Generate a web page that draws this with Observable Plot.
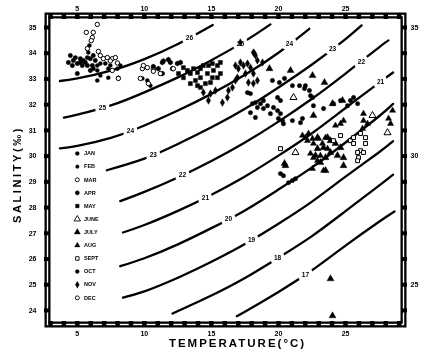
<!DOCTYPE html>
<html><head><meta charset="utf-8">
<script src="https://cdn.jsdelivr.net/npm/d3@7"></script>
<script src="https://cdn.jsdelivr.net/npm/@observablehq/plot@0.6"></script>
<style>
html,body{margin:0;padding:0;background:#fff;overflow:hidden;}
#chart svg{will-change:transform;}
</style></head><body><div id="chart"></div><script>
// ---- axis ticks ----
const xTicks = [5, 10, 15, 20, 25];
const xMinorTicks = [3,4,5,6,7,8,9,10,11,12,13,14,15,16,17,18,19,20,21,22,23,24,25,26,27,28,29];
const yTicksLeft = [24,25,26,27,28,29,30,31,32,33,34,35];
const yTicksRight = [25, 30, 35];
const yMinorTicks = [24,25,26,27,28,29,30,31,32,33,34,35];

// ---- isopycnal (sigma-t) contours, read as [T, S] points ----
const levels = [17, 18, 19, 20, 21, 22, 23, 24, 25, 26];
const sig17 = [[16.9,23.78],[17.5,23.95],[20,24.72],[22.5,25.56],[25,26.52],[27.5,27.45],[28.65,27.85]];
const sig18 = [[12.1,23.88],[15,24.58],[17.5,25.26],[20,26.05],[22.5,26.89],[25,27.86],[27.5,28.85],[28.55,29.28]];
const sig19 = [[8.4,24.5],[10,24.74],[12.5,25.27],[15,25.89],[17.5,26.58],[20,27.37],[22.5,28.23],[25,29.2],[27.5,30.15],[28.55,30.58]];
const sig20 = [[8.2,25.72],[10,26.03],[12.5,26.57],[15,27.2],[17.5,27.89],[20,28.7],[22.5,29.56],[25,30.53],[27.5,31.55],[28.55,32.03]];
const sig21 = [[8.4,27.03],[10,27.32],[12.5,27.87],[15,28.5],[17.5,29.21],[20,30.02],[22.5,30.89],[25,31.87],[27.5,32.85],[28.55,33.25]];
const sig22 = [[8.2,28.25],[10,28.61],[12.5,29.17],[15,29.81],[17.5,30.53],[20,31.34],[22.5,32.23],[25,33.21],[27.5,34.23],[28.2,34.5]];
const sig23 = [[7.2,29.45],[10,29.9],[12.5,30.47],[15,31.12],[17.5,31.84],[20,32.67],[22.5,33.56],[25,34.55],[26.2,35.08]];
const sig24 = [[3.7,30.3],[5,30.4],[7.5,30.71],[10,31.19],[12.5,31.77],[15,32.42],[17.5,33.16],[20,34.02],[22.3,34.95]];
const sig25 = [[4.0,31.5],[5,31.61],[7.5,31.97],[10,32.48],[12.5,33.06],[15,33.73],[17.5,34.47],[19.4,35.12]];
const sig26 = [[3.7,32.92],[5,33.02],[7.5,33.32],[10,33.77],[12.5,34.36],[15.1,35.1]];

// ---- contour labels ----
const labelLevels = [26, 25, 25, 24, 24, 23, 23, 22, 22, 21, 21, 20, 19, 18, 17];
const labelT = [13.36, 6.87, 17.16, 8.96, 20.82, 10.67, 24.03, 12.84, 26.19, 14.55, 27.61, 16.27, 17.99, 19.93, 22.01];
const labelS = [34.58, 31.88, 34.37, 30.99, 34.35, 30.05, 34.17, 29.25, 33.65, 28.39, 32.89, 27.55, 26.74, 26.03, 25.40];

// ---- observations by month, [T, S] ----
const months = ["JAN","FEB","MAR","APR","MAY","JUNE","JULY","AUG","SEPT","OCT","NOV","DEC"];
const jan = [[4.48,33.91],[4.85,33.83],[5.22,33.79],[5.45,33.72],[4.70,33.72],[5.0,33.60],[5.37,33.52],[4.63,33.52],[5.75,33.83],[5.97,33.79],[6.19,33.91],[5.75,33.52],[6.12,33.52],[5.97,33.33],[6.19,33.40],[5.0,33.21],[4.33,33.64],[5.22,33.64],[5.6,33.64],[6.34,33.72]];
const feb = [[6.49,33.52],[6.72,33.60],[7.09,33.60],[7.46,33.52],[6.49,33.33],[6.72,33.13],[7.31,33.05],[8.06,33.05],[6.49,32.94],[7.31,33.40],[7.99,33.40],[8.21,33.52],[9.85,33.02],[10.22,32.94],[10.45,32.74],[5.82,34.03],[5.9,34.30]];
const mar = [[6.49,35.12],[5.67,34.81],[6.19,34.81],[6.12,34.61],[6.04,34.49],[5.75,34.18],[6.57,34.07],[6.72,33.91],[6.94,33.79],[7.24,33.83],[7.61,33.79],[7.84,33.83],[9.85,33.40],[10.22,33.44],[10.67,33.40],[8.06,33.02],[9.70,33.02]];
const apr = [[11.34,33.64],[11.94,33.64],[12.69,33.64],[11.42,33.70],[11.79,33.75],[12.46,33.60],[10.67,33.48],[11.04,33.40],[11.34,33.21],[12.09,33.40]];
const may = [[12.91,33.44],[13.21,33.33],[13.43,33.21],[13.66,33.40],[13.96,33.25],[14.18,33.40],[14.40,33.52],[14.78,33.52],[15.07,33.60],[15.45,33.52],[15.67,33.64],[15.15,33.33],[14.70,33.21],[14.18,33.05],[13.81,32.94],[13.96,32.74],[14.18,32.67],[14.55,32.82],[14.93,32.86],[15.45,33.05],[15.67,33.21],[15.07,33.05],[12.91,33.05],[12.54,33.21],[13.43,32.82]];
const jun = [[21.12,32.28],[27.01,31.58],[28.13,30.91],[21.27,30.14]];
const jul = [[20.52,29.63],[22.61,31.58],[24.03,32.04],[24.78,32.16],[23.88,25.23],[24.03,23.79],[19.33,33.40],[20.90,33.33],[22.54,33.13],[23.43,32.86],[20.45,29.71],
  [22.91,30.72],[23.66,30.72],[23.88,30.60],[24.25,30.49],[24.63,30.33],[23.36,30.33],[22.91,30.29],[23.88,30.14],[24.40,30.02],[24.85,29.94],[23.51,29.94],[22.76,30.02],[23.13,29.75],[24.85,29.63],[23.51,29.44]];
const aug = [[21.79,30.80],[22.01,30.72],[22.24,30.88],[22.54,30.68],[22.16,30.60],[22.61,30.49],[22.99,30.68],[23.28,30.49],[23.51,30.72],[22.39,30.10],[22.61,29.94],[22.91,29.82],[23.13,30.02],[22.54,29.51],[23.36,29.44],[23.66,30.29],[24.25,31.19],[24.63,31.26],[24.85,31.38],[26.34,31.38],[26.64,31.26],[26.34,31.65],[26.27,31.07],[28.36,31.26],[28.21,31.46],[28.51,31.77]];
const sep = [[25.37,30.60],[25.60,30.72],[26.12,30.88],[26.49,30.72],[26.49,30.49],[26.12,30.21],[25.90,30.14],[25.60,30.49],[25.97,29.94],[25.90,29.82],[26.34,30.14],[20.15,30.29],[24.10,30.60],[24.63,30.80]];
const oct = [[17.91,32.43],[18.06,32.04],[17.91,31.69],[18.28,31.50],[18.43,31.89],[18.28,32.08],[18.66,32.04],[18.88,32.16],[19.18,31.96],[19.63,31.89],[19.93,31.77],[20.15,31.65],[20.0,31.46],[20.30,31.38],[19.40,31.65],[18.88,31.85],[20.15,32.16],[19.93,32.28],[20.37,31.26],[21.04,31.38],[21.64,31.30],[21.79,31.46],[17.69,32.47],[19.55,32.94],[20.07,32.86],[20.45,33.02],[21.04,32.74],[21.57,32.74],[21.94,32.63],[22.31,32.55],[22.01,32.74],[22.39,32.35],[20.37,29.24],[20.75,28.97],[21.04,29.05],[21.27,29.12],[20.15,29.32],
  [25.60,32.28],[25.37,32.16],[25.90,32.04],[25.15,31.96],[24.63,32.16],[24.10,32.04],[23.36,31.85],[22.61,31.96],[22.54,32.28]];
const nov = [[14.40,32.47],[14.93,32.43],[15.30,32.55],[14.78,32.16],[15.82,32.08],[16.19,32.28],[16.27,32.55],[16.57,32.67],[16.79,32.94],[16.94,33.05],[17.01,33.40],[17.39,33.52],[17.69,33.60],[16.79,33.52],[17.16,33.64],[17.91,33.44],[18.13,33.21],[17.54,33.21],[17.76,32.86],[18.13,32.82],[18.43,32.94],[18.28,33.91],[18.13,34.03],[18.43,33.72],[17.16,34.42],[18.21,33.99],[18.81,33.64]];
const dec = [[7.46,33.70],[7.99,33.62],[9.93,33.52],[10.67,33.30],[11.19,33.21],[12.16,33.40],[10.30,32.82],[7.61,33.33]];

// ---- build tables ----
const sigmaLines = [sig17, sig18, sig19, sig20, sig21, sig22, sig23, sig24, sig25, sig26];
const isoTable = [];
sigmaLines.forEach((pts, k) => pts.forEach(([T, S]) => isoTable.push({level: levels[k], T, S})));
const labelTable = labelLevels.map((l, i) => ({level: l, T: labelT[i], S: labelS[i]}));
const monthData = [jan, feb, mar, apr, may, jun, jul, aug, sep, oct, nov, dec];

const monthStyle = {
  JAN:  {symbol: "circle",   open: false, r: 2.2},
  FEB:  {symbol: "circle",   open: false, r: 2.0},
  MAR:  {symbol: "circle",   open: true,  r: 2.2},
  APR:  {symbol: "hexagon",  open: false, r: 2.2},
  MAY:  {symbol: "square",   open: false, r: 2.3},
  JUNE: {symbol: "triangle", open: true,  r: 2.6},
  JULY: {symbol: "triangle", open: false, r: 2.6},
  AUG:  {symbol: "triangle", open: false, r: 2.3},
  SEPT: {symbol: "square",   open: true,  r: 2.2},
  OCT:  {symbol: "circle",   open: false, r: 2.2},
  NOV:  {symbol: "diamond",  open: false, r: 2.3},
  DEC:  {symbol: "circle",   open: true,  r: 2.2}
};

const FONT = "'Liberation Sans', Arial, Helvetica, sans-serif";
const marks = [
  Plot.frame({stroke: "black", strokeWidth: 6, inset: -3}),
  Plot.frame({stroke: "white", strokeWidth: 1.4, inset: -3}),
  // minor tick blocks across the border
  Plot.axisX({anchor: "bottom", ticks: xMinorTicks, tickSize: 6, strokeWidth: 4.5, tickFormat: () => "", label: null}),
  Plot.axisX({anchor: "top", ticks: xMinorTicks, tickSize: 6, strokeWidth: 4.5, tickFormat: () => "", label: null}),
  Plot.axisY({anchor: "left", ticks: yMinorTicks, tickSize: 6, strokeWidth: 4, tickFormat: () => "", label: null}),
  Plot.axisY({anchor: "right", ticks: yMinorTicks, tickSize: 6, strokeWidth: 4, tickFormat: () => "", label: null}),
  // tick labels
  Plot.axisX({anchor: "bottom", ticks: xTicks, tickSize: 0, tickPadding: 10, fontSize: 7, label: null}),
  Plot.axisX({anchor: "top", ticks: xTicks, tickSize: 0, tickPadding: 8, fontSize: 7, label: null}),
  Plot.axisY({anchor: "left", ticks: yTicksLeft, tickSize: 0, tickPadding: 14, fontSize: 7, label: null}),
  Plot.axisY({anchor: "right", ticks: yTicksRight, tickSize: 0, tickPadding: 10, fontSize: 7, label: null}),
  // isopycnals
  Plot.line(isoTable, {x: "T", y: "S", z: "level", curve: "natural", stroke: "black", strokeWidth: 2.3, clip: true}),
  Plot.text(labelTable, {x: "T", y: "S", text: d => String(d.level), fontSize: 6.5, fontWeight: "bold",
    fill: "black", stroke: "white", strokeWidth: 7})
];

monthData.forEach((pts, i) => {
  const st = monthStyle[months[i]];
  marks.push(Plot.dot(pts, {x: d => d[0], y: d => d[1], symbol: st.symbol, r: st.r,
    fill: st.open ? "white" : "black", stroke: "black", strokeWidth: st.open ? 1 : 0.4}));
});

// legend inside the frame
months.forEach((m, i) => {
  const st = monthStyle[m];
  marks.push(Plot.dot([m], {x: () => 5.0, y: () => 30.1 - 0.51 * i, symbol: st.symbol, r: st.r * 0.9,
    fill: st.open ? "white" : "black", stroke: "black", strokeWidth: st.open ? 0.9 : 0.3}));
});
marks.push(Plot.text(months, {x: () => 5.5, y: (d, i) => 30.1 - 0.51 * i, text: d => d, textAnchor: "start",
  fontSize: 5.5, fontWeight: "bold", fill: "black"}));

// axis titles
marks.push(Plot.text(["TEMPERATURE(°C)"], {frameAnchor: "bottom", dx: 12, dy: 25, fontSize: 11.5,
  fontWeight: "bold", fill: "black"}));
marks.push(Plot.text(["SALINITY(‰)"], {frameAnchor: "left", rotate: -90, textAnchor: "start", dx: -33, dy: 53, fontSize: 11,
  fontWeight: "bold", fill: "black"}));

const chart = Plot.plot({
  width: 424, height: 356,
  marginLeft: 50, marginRight: 24, marginTop: 18, marginBottom: 35,
  x: {domain: [3, 29.1]},
  y: {domain: [23.57, 35.35]},
  style: {fontFamily: FONT, fontWeight: "bold", background: "white", color: "black", overflow: "visible"},
  marks
});
document.getElementById("chart").appendChild(chart);
// spaced-out letters on the two axis titles
d3.select(chart).selectAll("text")
  .filter(function () { return this.textContent === "TEMPERATURE(°C)"; })
  .style("letter-spacing", "2px");
d3.select(chart).selectAll("text")
  .filter(function () { return this.textContent === "SALINITY(‰)"; })
  .style("letter-spacing", "2.6px");
</script></body></html>
